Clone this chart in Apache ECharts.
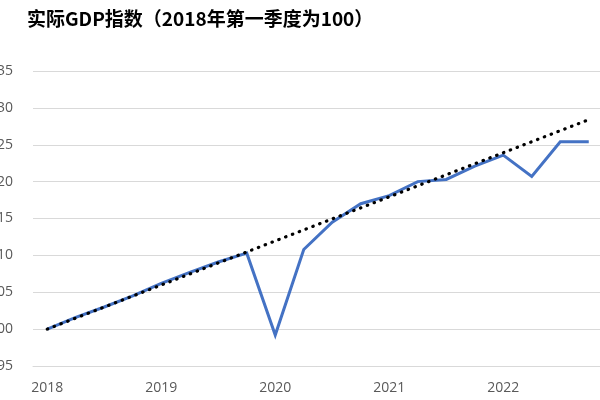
<!DOCTYPE html>
<html>
<head>
<meta charset="utf-8">
<script src="https://cdn.jsdelivr.net/npm/echarts@6/dist/echarts.min.js"></script>
<style>
    html, body {margin: 0; padding: 0; background: #fff;}
    #chart {width: 600px; height: 400px;}
</style>
</head>
<body>
<div id="chart"></div>
<script>
// quarters 2018Q1 .. 2022Q4
var quarters = [
    '2018Q1','2018Q2','2018Q3','2018Q4',
    '2019Q1','2019Q2','2019Q3','2019Q4',
    '2020Q1','2020Q2','2020Q3','2020Q4',
    '2021Q1','2021Q2','2021Q3','2021Q4',
    '2022Q1','2022Q2','2022Q3','2022Q4'
];
var yearLabels = ['2018','2019','2020','2021','2022'];

var gdpIndex = [
    100.0, 101.6, 103.0, 104.5,
    106.2, 107.7, 109.1, 110.3,
    99.2, 110.8, 114.5, 117.0,
    118.1, 120.0, 120.3, 122.1,
    123.6, 120.7, 125.4, 125.4
];

// pre-pandemic trend: only the two ends, joined straight
var trendLine = [
    100.0, null, null, null, null, null, null, null, null, null,
    null, null, null, null, null, null, null, null, null, 128.4
];

var yTicks = {min: 95, max: 135, step: 5};

var myChart = echarts.init(document.getElementById('chart'));

var option = {
    animation: false,
    title: {
        text: '实际GDP指数（2018年第一季度为100）',
        left: 22, top: 4,
        textStyle: {fontFamily: 'Noto Sans CJK SC', fontSize: 19, fontWeight: 'bold', color: '#000'}
    },
    grid: {left: 33, top: 71, width: 570, height: 295, containLabel: false, outerBoundsMode: 'none'},
    xAxis: {
        type: 'category',
        data: quarters,
        boundaryGap: true,
        axisLine: {lineStyle: {color: '#d9d9d9', width: 1}},
        axisTick: {alignWithLabel: true, interval: 0, length: 5, lineStyle: {color: '#d9d9d9'}},
        axisLabel: {
            interval: 0,
            margin: 15,
            fontFamily: 'Open Sans', fontSize: 14, color: '#595959',
            formatter: function (v) {
                var y = v.slice(0, 4);
                return (v.slice(4) === 'Q1' && yearLabels.indexOf(y) >= 0) ? y : '';
            }
        },
        splitLine: {show: false}
    },
    yAxis: {
        type: 'value',
        min: yTicks.min, max: yTicks.max, interval: yTicks.step,
        axisLine: {show: false},
        axisTick: {show: false},
        axisLabel: {margin: 20, fontFamily: 'Open Sans', fontSize: 14, color: '#595959'},
        splitLine: {lineStyle: {color: '#d9d9d9', width: 1}}
    },
    series: [
        {
            name: '实际GDP指数', type: 'line', data: gdpIndex,
            symbol: 'none', z: 2,
            lineStyle: {color: '#4472C4', width: 3, join: 'miter'}
        },
        {
            name: '趋势', type: 'line', data: trendLine,
            connectNulls: true, symbol: 'none', z: 3,
            lineStyle: {color: '#000', width: 3.2, type: [0.5, 6.8], cap: 'round'}
        }
    ]
};

myChart.setOption(option);
</script>
</body>
</html>
